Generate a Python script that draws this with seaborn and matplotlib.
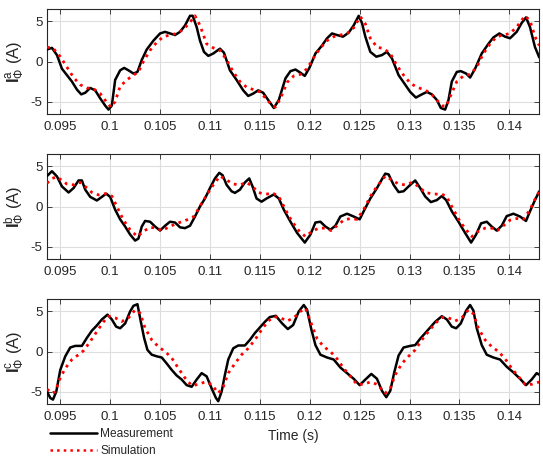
import numpy as np
import pandas as pd
import matplotlib
matplotlib.use("Agg")
import matplotlib.pyplot as plt
from matplotlib.lines import Line2D
import seaborn as sns

# ---------------- data (time in ms, current in A) ----------------
a_meas_t = [93.667, 94.167, 94.667, 95.167, 95.667, 96.167, 96.667, 97.1, 97.5, 98.0, 98.5, 99.0, 99.5, 99.833,
            100.167, 100.5, 101.0, 101.4, 101.833, 102.333, 102.733, 103.167, 103.667, 104.333, 105.0, 105.5,
            106.0, 106.5, 107.0, 107.5, 108.0, 108.267, 108.667, 109.0, 109.4, 109.833, 110.333, 111.0, 111.4,
            112.0, 112.667, 113.333, 113.833, 114.333, 114.833, 115.333, 115.833, 116.4, 116.9, 117.567, 118.067,
            118.567, 119.067, 119.5, 120.0, 120.567, 121.233, 121.733, 122.233, 122.733, 123.333, 123.9, 124.4,
            124.9, 125.233, 125.567, 126.067, 126.667, 127.233, 127.733, 128.233, 128.9, 129.567, 130.067, 130.633,
            131.233, 131.733, 132.233, 132.733, 133.133, 133.567, 133.9, 134.233, 134.733, 135.133, 135.667,
            136.067, 136.567, 137.233, 137.9, 138.4, 139.0, 139.567, 140.067, 140.733, 141.233, 141.667, 142.067,
            142.567, 143.0]
a_meas_v = [1.5, 1.7, 0.8, -0.9, -1.7, -2.5, -3.5, -4.1, -3.9, -3.3, -3.6, -4.6, -5.5, -6.0,
            -5.5, -2.3, -1.1, -0.8, -1.1, -1.5, -1.3, 0.2, 1.5, 2.6, 3.5, 3.7,
            3.5, 3.3, 3.7, 4.5, 5.7, 5.7, 4.3, 2.6, 1.2, 0.7, 1.0, 1.6, 1.1,
            -1.1, -2.3, -3.6, -4.3, -4.0, -3.6, -3.9, -4.8, -5.8, -4.8, -2.1, -1.2,
            -1.0, -1.4, -1.8, -0.7, 1.0, 2.0, 2.9, 3.5, 3.3, 3.1, 3.6, 4.5,
            5.7, 4.8, 3.1, 1.2, 0.6, 0.8, 1.2, 0.4, -1.7, -2.9, -3.8, -4.5,
            -4.1, -3.8, -4.1, -4.8, -5.8, -6.0, -4.8, -2.5, -1.3, -1.2, -1.5,
            -2.0, -0.9, 1.0, 2.2, 3.0, 3.5, 3.1, 2.9, 3.7, 4.8, 5.5, 4.3,
            1.8, 0.5]

a_sim_t = [93.667, 94.333, 95.0, 95.667, 96.333, 97.0, 97.667, 98.333, 99.0, 99.6, 100.067, 100.5, 101.0, 101.667,
           102.333, 102.833, 103.333, 104.0, 104.667, 105.333, 106.0, 106.667, 107.333, 108.0, 108.5, 109.0,
           109.667, 110.333, 111.0, 111.667, 112.333, 113.0, 113.667, 114.333, 115.0, 115.667, 116.167, 116.567,
           117.067, 117.733, 118.4, 119.067, 119.733, 120.4, 121.067, 121.733, 122.4, 123.067, 123.733, 124.4,
           125.067, 125.567, 126.067, 126.733, 127.4, 128.067, 128.733, 129.4, 130.067, 130.733, 131.4, 132.067,
           132.733, 133.233, 133.667, 134.067, 134.733, 135.4, 136.067, 136.733, 137.4, 138.067, 138.733, 139.4,
           140.067, 140.733, 141.567, 142.067, 142.567, 143.0]
a_sim_v = [1.8, 1.6, 0.6, -0.7, -2.0, -2.9, -3.3, -3.4, -4.0, -5.0, -5.7, -5.0, -3.1, -2.3,
           -1.7, -1.3, 0.0, 1.4, 2.4, 3.1, 3.3, 3.5, 4.0, 4.9, 5.7, 4.5,
           2.2, 1.7, 1.4, 0.2, -1.3, -2.5, -3.2, -3.5, -3.8, -4.7, -5.4, -5.7,
           -4.6, -2.6, -1.8, -1.6, -0.9, 0.5, 1.7, 2.6, 3.1, 3.3, 3.5, 4.2,
           5.6, 4.7, 2.9, 1.8, 1.6, 1.0, -0.5, -1.7, -2.7, -3.2, -3.5, -3.9,
           -4.8, -5.5, -5.6, -4.4, -2.5, -1.8, -1.6, -0.7, 1.0, 2.2, 3.1, 3.3,
           3.5, 4.3, 5.7, 5.1, 3.1, 2.0]

b_meas_t = [93.667, 94.167, 94.667, 95.167, 95.833, 96.333, 96.833, 97.167, 97.5, 98.0, 98.667, 99.167, 99.6,
            100.0, 100.5, 101.0, 101.5, 102.0, 102.5, 102.833, 103.167, 103.5, 104.0, 104.5, 105.0, 105.5,
            106.0, 106.5, 107.0, 107.5, 108.0, 108.5, 109.0, 109.5, 110.0, 110.5, 110.933, 111.267, 111.667,
            112.167, 112.5, 113.0, 113.5, 113.933, 114.267, 114.667, 115.167, 115.667, 116.4, 116.9, 117.4,
            118.067, 118.733, 119.5, 120.067, 120.567, 121.067, 121.567, 122.067, 122.567, 123.067, 123.733,
            124.4, 125.0, 125.4, 126.067, 126.733, 127.233, 127.567, 127.9, 128.4, 128.9, 129.4, 130.067,
            130.567, 131.067, 131.567, 132.133, 132.733, 133.233, 133.667, 134.233, 134.9, 135.567, 136.167,
            136.667, 137.167, 137.733, 138.233, 138.733, 139.233, 139.733, 140.4, 141.067, 141.667, 142.067,
            142.567, 143.0]
b_meas_v = [3.8, 4.4, 3.75, 2.5, 1.75, 2.3, 3.25, 3.25, 2.1, 1.2, 0.75, 1.2, 1.6,
            1.2, -0.4, -1.6, -2.5, -3.5, -4.25, -4.0, -2.5, -1.8, -1.9, -2.5, -3.0, -2.4,
            -1.9, -2.0, -2.6, -2.7, -2.4, -1.25, 0.0, 1.0, 2.3, 3.5, 4.2, 3.9, 2.7,
            1.9, 1.7, 2.1, 3.0, 3.5, 2.5, 1.0, 0.6, 1.0, 1.5, 1.0, -0.4,
            -1.9, -3.3, -4.5, -3.5, -2.0, -1.9, -2.5, -2.9, -2.4, -1.25, -0.9,
            -1.25, -1.6, -0.6, 1.0, 2.3, 3.4, 4.1, 4.0, 2.7, 1.8, 1.9, 2.7,
            3.25, 2.3, 1.25, 0.55, 0.8, 1.3, 0.8, -0.6, -1.9, -3.3, -4.5,
            -3.5, -2.1, -1.9, -2.5, -3.0, -2.4, -1.2, -0.9, -1.25, -1.8, -0.6,
            0.8, 1.9]

b_sim_t = [93.667, 94.167, 94.667, 95.167, 95.667, 96.333, 97.0, 97.5, 98.167, 98.833, 99.5, 100.167, 100.667,
           101.333, 102.0, 102.733, 103.333, 104.0, 104.667, 105.167, 105.833, 106.5, 107.167, 107.833, 108.333,
           109.0, 109.667, 110.333, 111.0, 111.667, 112.333, 113.0, 113.667, 114.267, 114.833, 115.5, 116.4,
           116.9, 117.567, 118.233, 118.9, 119.567, 120.233, 120.9, 121.567, 122.133, 122.733, 123.4, 124.067,
           124.733, 125.4, 126.067, 126.733, 127.567, 128.233, 128.9, 129.567, 130.233, 130.9, 131.567, 132.4,
           133.233, 133.733, 134.4, 135.067, 135.733, 136.233, 136.9, 137.567, 138.233, 138.8, 139.4, 140.067,
           140.733, 141.4, 142.067, 142.567, 143.0]
b_sim_v = [2.9, 3.5, 3.7, 3.25, 2.8, 2.7, 3.0, 2.5, 1.75, 1.45, 1.6, 1.3, 0.0,
           -1.7, -2.9, -3.75, -3.1, -2.6, -2.7, -3.0, -2.6, -2.2, -1.9, -1.6, -1.3,
           0.0, 1.45, 2.7, 3.8, 3.3, 2.8, 2.7, 3.0, 2.5, 1.75, 1.55, 1.6,
           1.25, -0.4, -1.9, -3.0, -3.75, -3.1, -2.7, -2.7, -3.0, -2.4, -1.7, -1.5,
           -1.6, -0.4, 1.25, 2.5, 3.8, 3.3, 2.8, 2.7, 3.0, 2.5, 1.75, 1.55,
           1.55, 1.2, -0.4, -1.9, -3.0, -3.75, -3.1, -2.7, -2.7, -3.0, -2.4, -1.7,
           -1.5, -1.6, -0.4, 0.9, 1.9]

c_meas_t = [93.667, 94.0, 94.267, 94.6, 95.0, 95.5, 96.0, 96.5, 97.167, 97.667, 98.167, 98.667, 99.167, 99.733,
            100.167, 100.6, 101.0, 101.5, 102.0, 102.333, 102.733, 103.067, 103.4, 103.733, 104.167, 104.667,
            105.167, 105.667, 106.167, 106.667, 107.167, 107.667, 108.167, 108.667, 109.167, 109.667, 110.167,
            110.6, 110.833, 111.167, 111.5, 111.833, 112.333, 112.833, 113.5, 114.0, 114.5, 115.0, 115.5, 116.0,
            116.6, 117.233, 117.8, 118.333, 118.9, 119.4, 119.733, 120.133, 120.567, 121.067, 121.733, 122.4,
            123.067, 123.733, 124.4, 125.0, 125.567, 126.167, 126.733, 127.233, 127.667, 128.067, 128.467,
            128.9, 129.4, 130.067, 130.567, 131.067, 131.567, 132.067, 132.567, 133.233, 133.733, 134.233,
            134.667, 135.133, 135.667, 136.067, 136.4, 136.733, 137.233, 137.733, 138.4, 139.067, 139.733,
            140.4, 141.067, 141.667, 142.233, 142.733, 143.0]
c_meas_v = [-5.0, -5.8, -6.0, -5.0, -2.3, -0.6, 0.5, 0.7, 0.7, 1.7, 2.6, 3.25, 4.0, 4.6,
            4.0, 3.1, 2.9, 3.5, 5.0, 5.7, 5.9, 3.75, 1.7, 0.2, -0.4, -0.6,
            -0.75, -1.5, -2.3, -3.0, -3.5, -4.2, -4.4, -3.5, -2.7, -3.1, -4.6,
            -5.8, -6.2, -5.0, -2.9, -1.0, 0.4, 0.75, 0.75, 1.45, 2.3, 3.0, 3.7, 4.3,
            4.45, 3.5, 2.8, 3.3, 5.0, 5.8, 5.2, 2.9, 0.8, -0.4, -0.75, -1.0,
            -2.0, -2.7, -3.4, -4.2, -3.5, -2.8, -3.4, -4.9, -5.7, -4.9, -2.6,
            -0.5, 0.5, 0.7, 0.8, 1.6, 2.3, 3.0, 3.7, 4.4, 4.0, 3.1,
            2.9, 3.5, 5.1, 5.8, 5.1, 2.9, 0.8, -0.4, -0.75, -1.0, -1.9,
            -2.6, -3.4, -4.2, -3.5, -2.7, -2.9]

c_sim_t = [93.667, 94.167, 94.5, 95.0, 95.5, 96.167, 96.833, 97.333, 98.0, 98.667, 99.333, 99.833, 100.5,
           101.167, 101.833, 102.5, 103.0, 103.5, 104.167, 104.833, 105.5, 106.167, 106.833, 107.5, 108.167,
           108.833, 109.5, 110.167, 110.833, 111.333, 111.833, 112.5, 113.167, 113.833, 114.5, 115.167,
           115.833, 116.45, 117.067, 117.733, 118.4, 119.067, 119.567, 120.067, 120.733, 121.4, 122.067,
           122.733, 123.4, 124.067, 124.733, 125.4, 126.067, 126.733, 127.567, 128.067, 128.567, 129.233,
           129.9, 130.567, 131.233, 131.9, 132.567, 133.233, 133.9, 134.567, 135.233, 135.9, 136.4, 136.9,
           137.567, 138.233, 138.9, 139.567, 140.233, 140.9, 141.567, 142.233, 143.0]
c_sim_v = [-4.7, -5.2, -5.0, -3.3, -2.1, -1.0, -0.4, 0.1, 1.25, 2.5, 3.7, 4.4, 4.2,
           3.75, 4.2, 5.2, 4.8, 2.9, 1.45, 0.6, 0.0, -0.8, -2.1, -3.3, -4.25,
           -4.1, -3.8, -4.1, -5.2, -4.4, -2.7, -1.5, -0.4, 0.4, 1.45, 2.7,
           3.8, 4.35, 4.2, 3.8, 4.2, 5.0, 5.4, 3.75, 1.6, 0.6, 0.0,
           -0.9, -2.1, -3.1, -4.1, -4.1, -3.8, -4.1, -5.2, -4.6, -2.9, -1.5,
           -0.6, 0.2, 1.45, 2.5, 3.5, 4.25, 4.2, 3.8, 4.2, 5.2, 4.7, 2.9,
           1.45, 0.6, 0.0, -0.9, -2.1, -3.1, -4.1, -4.1, -3.8]

phases = ["a", "b", "c"]
x_ticks = [0.095, 0.1, 0.105, 0.11, 0.115, 0.12, 0.125, 0.13, 0.135, 0.14]
x_tick_labels = ["0.095", "0.1", "0.105", "0.11", "0.115", "0.12", "0.125", "0.13", "0.135", "0.14"]
y_ticks = [-5, 0, 5]
y_tick_labels = ["-5", "0", "5"]
legend_labels = ["Measurement", "Simulation"]

series = {
    "a": (a_meas_t, a_meas_v, a_sim_t, a_sim_v),
    "b": (b_meas_t, b_meas_v, b_sim_t, b_sim_v),
    "c": (c_meas_t, c_meas_v, c_sim_t, c_sim_v),
}

# ---------------- style ----------------
sns.set_theme(style="white")
plt.rcParams["font.family"] = ["Liberation Sans", "DejaVu Sans"]
plt.rcParams["mathtext.fontset"] = "custom"
plt.rcParams["mathtext.rm"] = "Liberation Sans"
plt.rcParams["mathtext.it"] = "Liberation Sans:italic"
plt.rcParams["mathtext.bf"] = "Liberation Sans:bold"

W, H = 543, 458
fig = plt.figure(figsize=(W / 100, H / 100), dpi=100)
fig.patch.set_facecolor("white")

ax_left, ax_right = 47, 539.3
tops = [9, 154, 299]
ax_h = 105
dark = (0.15, 0.15, 0.15)

for ph, top in zip(phases, tops):
    ax = fig.add_axes([ax_left / W, 1 - (top + ax_h) / H, (ax_right - ax_left) / W, ax_h / H])
    mt, mv, st, sv = series[ph]
    dm = pd.DataFrame({"t": np.array(mt) / 1000.0, "v": mv})
    ds = pd.DataFrame({"t": np.array(st) / 1000.0, "v": sv})
    sns.lineplot(data=dm, x="t", y="v", ax=ax, color="black", linewidth=1.8,
                 estimator=None, sort=False, zorder=3)
    sns.lineplot(data=ds, x="t", y="v", ax=ax, color=(1, 0, 0), linewidth=2.0,
                 linestyle=":", estimator=None, sort=False, zorder=4)
    ax.set_xlim(0.09367, 0.1430)
    ax.set_ylim(-6.55, 6.55)
    ax.set_xticks(x_ticks)
    ax.set_xticklabels(x_tick_labels)
    ax.set_yticks(y_ticks)
    ax.set_yticklabels(y_tick_labels)
    ax.grid(True, color=(0.87, 0.87, 0.87), linewidth=0.8)
    ax.set_axisbelow(True)
    for sp in ax.spines.values():
        sp.set_visible(True)
        sp.set_color(dark)
        sp.set_linewidth(0.8)
    ax.tick_params(axis="both", direction="in", length=3.5, width=0.6, colors=dark,
                   labelsize=9.6, top=True, right=True, bottom=True, left=True)
    ax.tick_params(axis="x", pad=5)
    ax.tick_params(axis="y", pad=3)
    ax.set_ylabel(r"$\mathbf{I}_{\Phi}^{\mathrm{%s}}$ (A)" % ph, fontsize=12, color=dark, labelpad=3)
    ax.set_xlabel("")
    if ph == "c":
        ax.set_xlabel("Time (s)", fontsize=10, color=dark, labelpad=4.5)

handles = [Line2D([], [], color="black", linewidth=1.8),
           Line2D([], [], color=(1, 0, 0), linewidth=1.8, linestyle=":")]
fig.legend(handles, legend_labels, loc="upper left", bbox_to_anchor=(50 / W, 1 - 428 / H),
           frameon=False, fontsize=8.6, handlelength=3.9, handletextpad=0.3,
           borderpad=0, borderaxespad=0, labelspacing=0.45)

fig.savefig("out.png", dpi=100, facecolor="white")
